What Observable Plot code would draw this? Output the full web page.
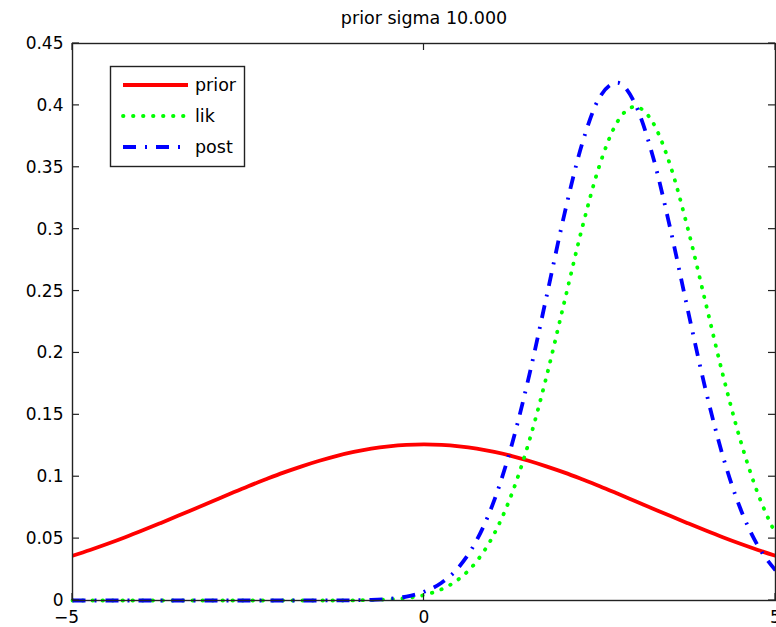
<!DOCTYPE html>
<html><head><meta charset="utf-8">
<script src="https://cdn.jsdelivr.net/npm/d3@7"></script>
<script src="https://cdn.jsdelivr.net/npm/@observablehq/plot@0.6"></script>
<style>body{margin:0;background:#fff} svg{display:block}</style>
</head><body><div id="chart"></div>
<script>
const title = "prior sigma 10.000";
const seriesNames = ["prior", "lik", "post"];
const seriesColors = ["#ff0000", "#00ff00", "#0000ff"];
const xs = [-5,-4.75,-4.5,-4.25,-4,-3.75,-3.5,-3.25,-3,-2.75,-2.5,-2.25,-2,-1.75,-1.5,-1.25,-1,-0.75,-0.5,-0.25,0,0.25,0.5,0.75,1,1.25,1.5,1.75,2,2.25,2.5,2.75,3,3.25,3.5,3.75,4,4.25,4.5,4.75,5];
const prior = [0.0361,0.0408,0.0458,0.0511,0.0567,0.0625,0.0684,0.0744,0.0804,0.0864,0.0923,0.0979,0.1033,0.1082,0.1127,0.1167,0.1200,0.1227,0.1246,0.1258,0.1262,0.1258,0.1246,0.1227,0.1200,0.1167,0.1127,0.1082,0.1033,0.0979,0.0923,0.0864,0.0804,0.0744,0.0684,0.0625,0.0567,0.0511,0.0458,0.0408,0.0361];
const lik = [0,0,0,0,0,0,0,0,0,0,0,0,0,0,0,0,0.0001,0.0004,0.0009,0.0020,0.0044,0.0091,0.0175,0.0317,0.0540,0.0863,0.1295,0.1826,0.2420,0.3011,0.3521,0.3867,0.3989,0.3867,0.3521,0.3011,0.2420,0.1826,0.1295,0.0863,0.0540];
const post = [0,0,0,0,0,0,0,0,0,0,0,0,0,0,0,0.0001,0.0002,0.0005,0.0014,0.0032,0.0070,0.0143,0.0273,0.0487,0.0811,0.1260,0.1827,0.2474,0.3128,0.3691,0.4067,0.4183,0.4016,0.3600,0.3013,0.2354,0.1717,0.1169,0.0743,0.0441,0.0244];
const xTicks = [-5, 0, 5];
const xTickLabels = ["\u22125", "0", "5"];
const yTicks = [0, 0.05, 0.1, 0.15, 0.2, 0.25, 0.3, 0.35, 0.4, 0.45];
const yTickLabels = ["0", "0.05", "0.1", "0.15", "0.2", "0.25", "0.3", "0.35", "0.4", "0.45"];

const rows = xs.map((x, i) => ({x, prior: prior[i], lik: lik[i], post: post[i]}));
const FONT = "'DejaVu Sans', Verdana, sans-serif";
const dashes = [null, "0.5,9.5", "13,9,2,9"];
const caps = ["butt", "round", "butt"];
const negTicks = xTicks.filter(v => v < 0);
const posTicks = xTicks.filter(v => v >= 0);
const xLabel = d => xTickLabels[xTicks.indexOf(d)];

const chart = Plot.plot({
  width: 776, height: 627,
  marginLeft: 72, marginRight: 1, marginTop: 43, marginBottom: 27,
  style: {fontFamily: FONT, fontSize: "17px", background: "#fff", color: "#000"},
  x: {domain: [-5, 5]},
  y: {domain: [0, 0.45]},
  marks: [
    ...seriesNames.map((s, k) => Plot.line(rows, {
      x: "x", y: s, stroke: seriesColors[k], strokeWidth: 3.8,
      strokeDasharray: dashes[k], strokeLinecap: caps[k], curve: "monotone-x"
    })),
    Plot.frame({stroke: "#222", strokeWidth: 1.4}),
    Plot.axisX(negTicks, {tickSize: 0, tickPadding: 10, fontSize: 17, dx: -6, tickFormat: xLabel, label: null}),
    Plot.axisX(posTicks, {tickSize: 0, tickPadding: 10, fontSize: 17, tickFormat: xLabel, label: null}),
    Plot.axisY(yTicks, {tickSize: 0, tickPadding: 9, fontSize: 17, tickFormat: (d, i) => yTickLabels[i], label: null}),
    Plot.text([title], {text: d => d, frameAnchor: "top", dy: -25, lineAnchor: "middle", fontSize: 17.5})
  ]
});

document.getElementById("chart").appendChild(chart);

// inward ticks on all four sides, MATLAB-style
const sx = chart.scale("x"), sy = chart.scale("y");
const svg = d3.select(chart);
const L = 72, R = 775, T = 43, B = 600, TL = 7;
const g = svg.append("g").attr("stroke", "#222").attr("stroke-width", 1.2);
xTicks.forEach(v => {
  const px = sx.apply(v);
  g.append("line").attr("x1", px).attr("x2", px).attr("y1", B).attr("y2", B - TL);
  g.append("line").attr("x1", px).attr("x2", px).attr("y1", T).attr("y2", T + TL);
});
yTicks.forEach(v => {
  const py = sy.apply(v);
  g.append("line").attr("y1", py).attr("y2", py).attr("x1", L).attr("x2", L + TL);
  g.append("line").attr("y1", py).attr("y2", py).attr("x1", R).attr("x2", R - TL);
});

// legend box
const lg = svg.append("g").attr("text-anchor", "start");
lg.append("rect").attr("x", 110.5).attr("y", 66.5).attr("width", 134).attr("height", 100)
  .attr("fill", "#fff").attr("stroke", "#222").attr("stroke-width", 1.4);
const ly = [85, 116, 147];
seriesNames.forEach((s, k) => {
  const ln = lg.append("line").attr("x1", 123).attr("x2", 188).attr("y1", ly[k]).attr("y2", ly[k])
    .attr("stroke", seriesColors[k]).attr("stroke-width", 3.8).attr("stroke-linecap", caps[k]);
  if (dashes[k]) ln.attr("stroke-dasharray", dashes[k]);
  lg.append("text").attr("x", 195).attr("y", ly[k]).attr("dy", "0.35em").attr("text-anchor", "start")
    .attr("font-size", 17.5).attr("font-family", FONT).attr("fill", "#000").text(s);
});
</script>
</body></html>
